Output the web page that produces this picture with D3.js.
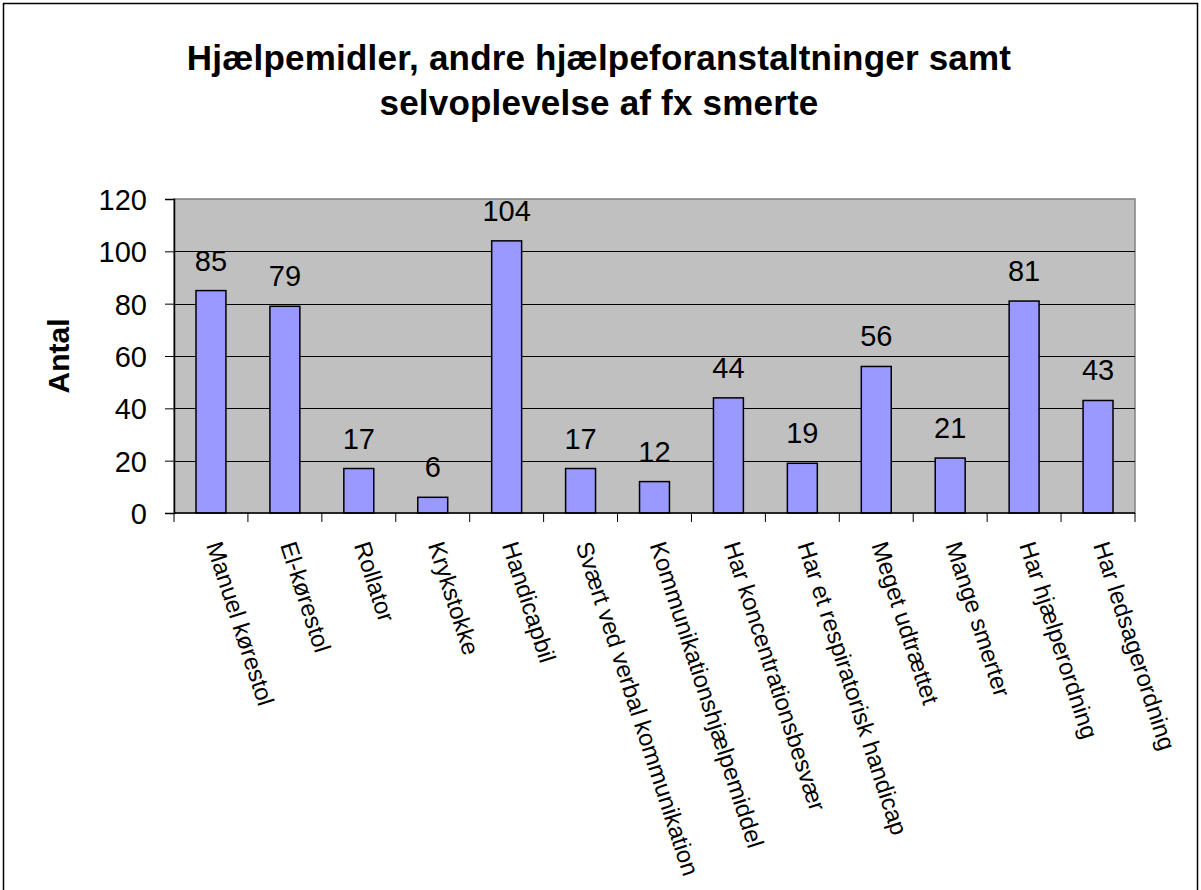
<!DOCTYPE html>
<html>
<head>
<meta charset="utf-8">
<script src="https://cdn.jsdelivr.net/npm/d3@7"></script>
<style>
  body { margin: 0; background: #fff; }
  svg text { font-family: "Liberation Sans", Arial, sans-serif; }
</style>
</head>
<body>
<svg id="chart" width="1201" height="890"></svg>
<script>
var categories = ["Manuel kørestol", "El-kørestol", "Rollator", "Krykstokke", "Handicapbil",
  "Svært ved verbal kommunikation", "Kommunikationshjælpemiddel", "Har koncentrationsbesvær",
  "Har et respiratorisk handicap", "Meget udtrættet", "Mange smerter", "Har hjælperordning",
  "Har ledsagerordning"];
var values = [85, 79, 17, 6, 104, 17, 12, 44, 19, 56, 21, 81, 43];
var yTicks = [0, 20, 40, 60, 80, 100, 120];
var titleLines = ["Hjælpemidler, andre hjælpeforanstaltninger samt", "selvoplevelse af fx smerte"];

var W = 1201, H = 890;
var plotL = 174, plotR = 1135, plotT = 199, plotB = 513;

var svg = d3.select('#chart');

// outer frame
svg.append('rect')
  .attr('x', 3.5).attr('y', 3.5)
  .attr('width', W - 7).attr('height', H + 20)
  .attr('fill', '#fff').attr('stroke', '#000').attr('stroke-width', 1.5);

svg.selectAll('.title')
  .data(titleLines)
  .enter().append('text')
  .attr('class', 'title')
  .attr('x', 599)
  .attr('y', function(d, i) { return 70 + i * 45; })
  .attr('text-anchor', 'middle')
  .style('font-size', '35px')
  .style('font-weight', 'bold')
  .style('letter-spacing', '0.2px')
  .text(function(d) { return d; });

var x = d3.scaleBand().domain(categories).range([plotL, plotR]);
var barW = x.step() * 0.405;
var y = d3.scaleLinear().domain([0, 120]).range([plotB, plotT]);

// plot area
svg.append('rect')
  .attr('x', plotL).attr('y', plotT)
  .attr('width', plotR - plotL).attr('height', plotB - plotT)
  .attr('fill', '#c0c0c0').attr('stroke', '#808080').attr('stroke-width', 1.5);

// gridlines
svg.append('g')
  .selectAll('line')
  .data(yTicks.slice(1, -1))
  .enter().append('line')
  .attr('x1', plotL).attr('x2', plotR)
  .attr('y1', function(d) { return Math.round(y(d)) + 0.5; })
  .attr('y2', function(d) { return Math.round(y(d)) + 0.5; })
  .attr('stroke', '#000').attr('stroke-width', 1);

// bars
svg.append('g')
  .selectAll('rect')
  .data(values)
  .enter().append('rect')
  .attr('x', function(d, i) { return x(categories[i]) + (x.step() - barW) / 2; })
  .attr('y', function(d) { return y(d); })
  .attr('width', barW)
  .attr('height', function(d) { return plotB - y(d); })
  .attr('fill', '#9999ff')
  .attr('stroke', '#000').attr('stroke-width', 1.5);

// value labels
svg.append('g')
  .selectAll('text')
  .data(values)
  .enter().append('text')
  .attr('x', function(d, i) { return x(categories[i]) + x.step() / 2; })
  .attr('y', function(d) { return y(d) - 20; })
  .attr('text-anchor', 'middle')
  .style('font-size', '29px')
  .text(function(d) { return d; });

// y axis
var yAxis = svg.append('g')
  .attr('transform', 'translate(' + plotL + ',0)')
  .call(d3.axisLeft(y).tickValues(yTicks).tickSize(9).tickPadding(18));
yAxis.selectAll('text').style('font-size', '29px').attr('dy', '0.36em').attr('fill', '#000');
yAxis.selectAll('line').attr('stroke', '#000');
yAxis.select('.domain').attr('stroke', '#000').attr('stroke-width', 1.5);

// x axis
var xAxis = svg.append('g')
  .attr('transform', 'translate(0,' + plotB + ')');
xAxis.append('line')
  .attr('x1', plotL).attr('x2', plotR)
  .attr('stroke', '#000').attr('stroke-width', 1.5);
xAxis.selectAll('.sep')
  .data(d3.range(categories.length + 1))
  .enter().append('line')
  .attr('class', 'sep')
  .attr('x1', function(i) { return plotL + i * x.step(); })
  .attr('x2', function(i) { return plotL + i * x.step(); })
  .attr('y1', 0).attr('y2', 9)
  .attr('stroke', '#000');

// x labels (rotated)
svg.append('g')
  .selectAll('text')
  .data(categories)
  .enter().append('text')
  .attr('transform', function(d) {
    var cx = x(d) + x.step() / 2 - 5;
    return 'translate(' + cx + ',545) rotate(72)';
  })
  .style('font-size', '24px')
  .text(function(d) { return d; });

// y title
svg.append('text')
  .attr('transform', 'translate(69,356) rotate(-90)')
  .attr('text-anchor', 'middle')
  .style('font-size', '30px')
  .style('font-weight', 'bold')
  .text('Antal');
</script>
</body>
</html>
